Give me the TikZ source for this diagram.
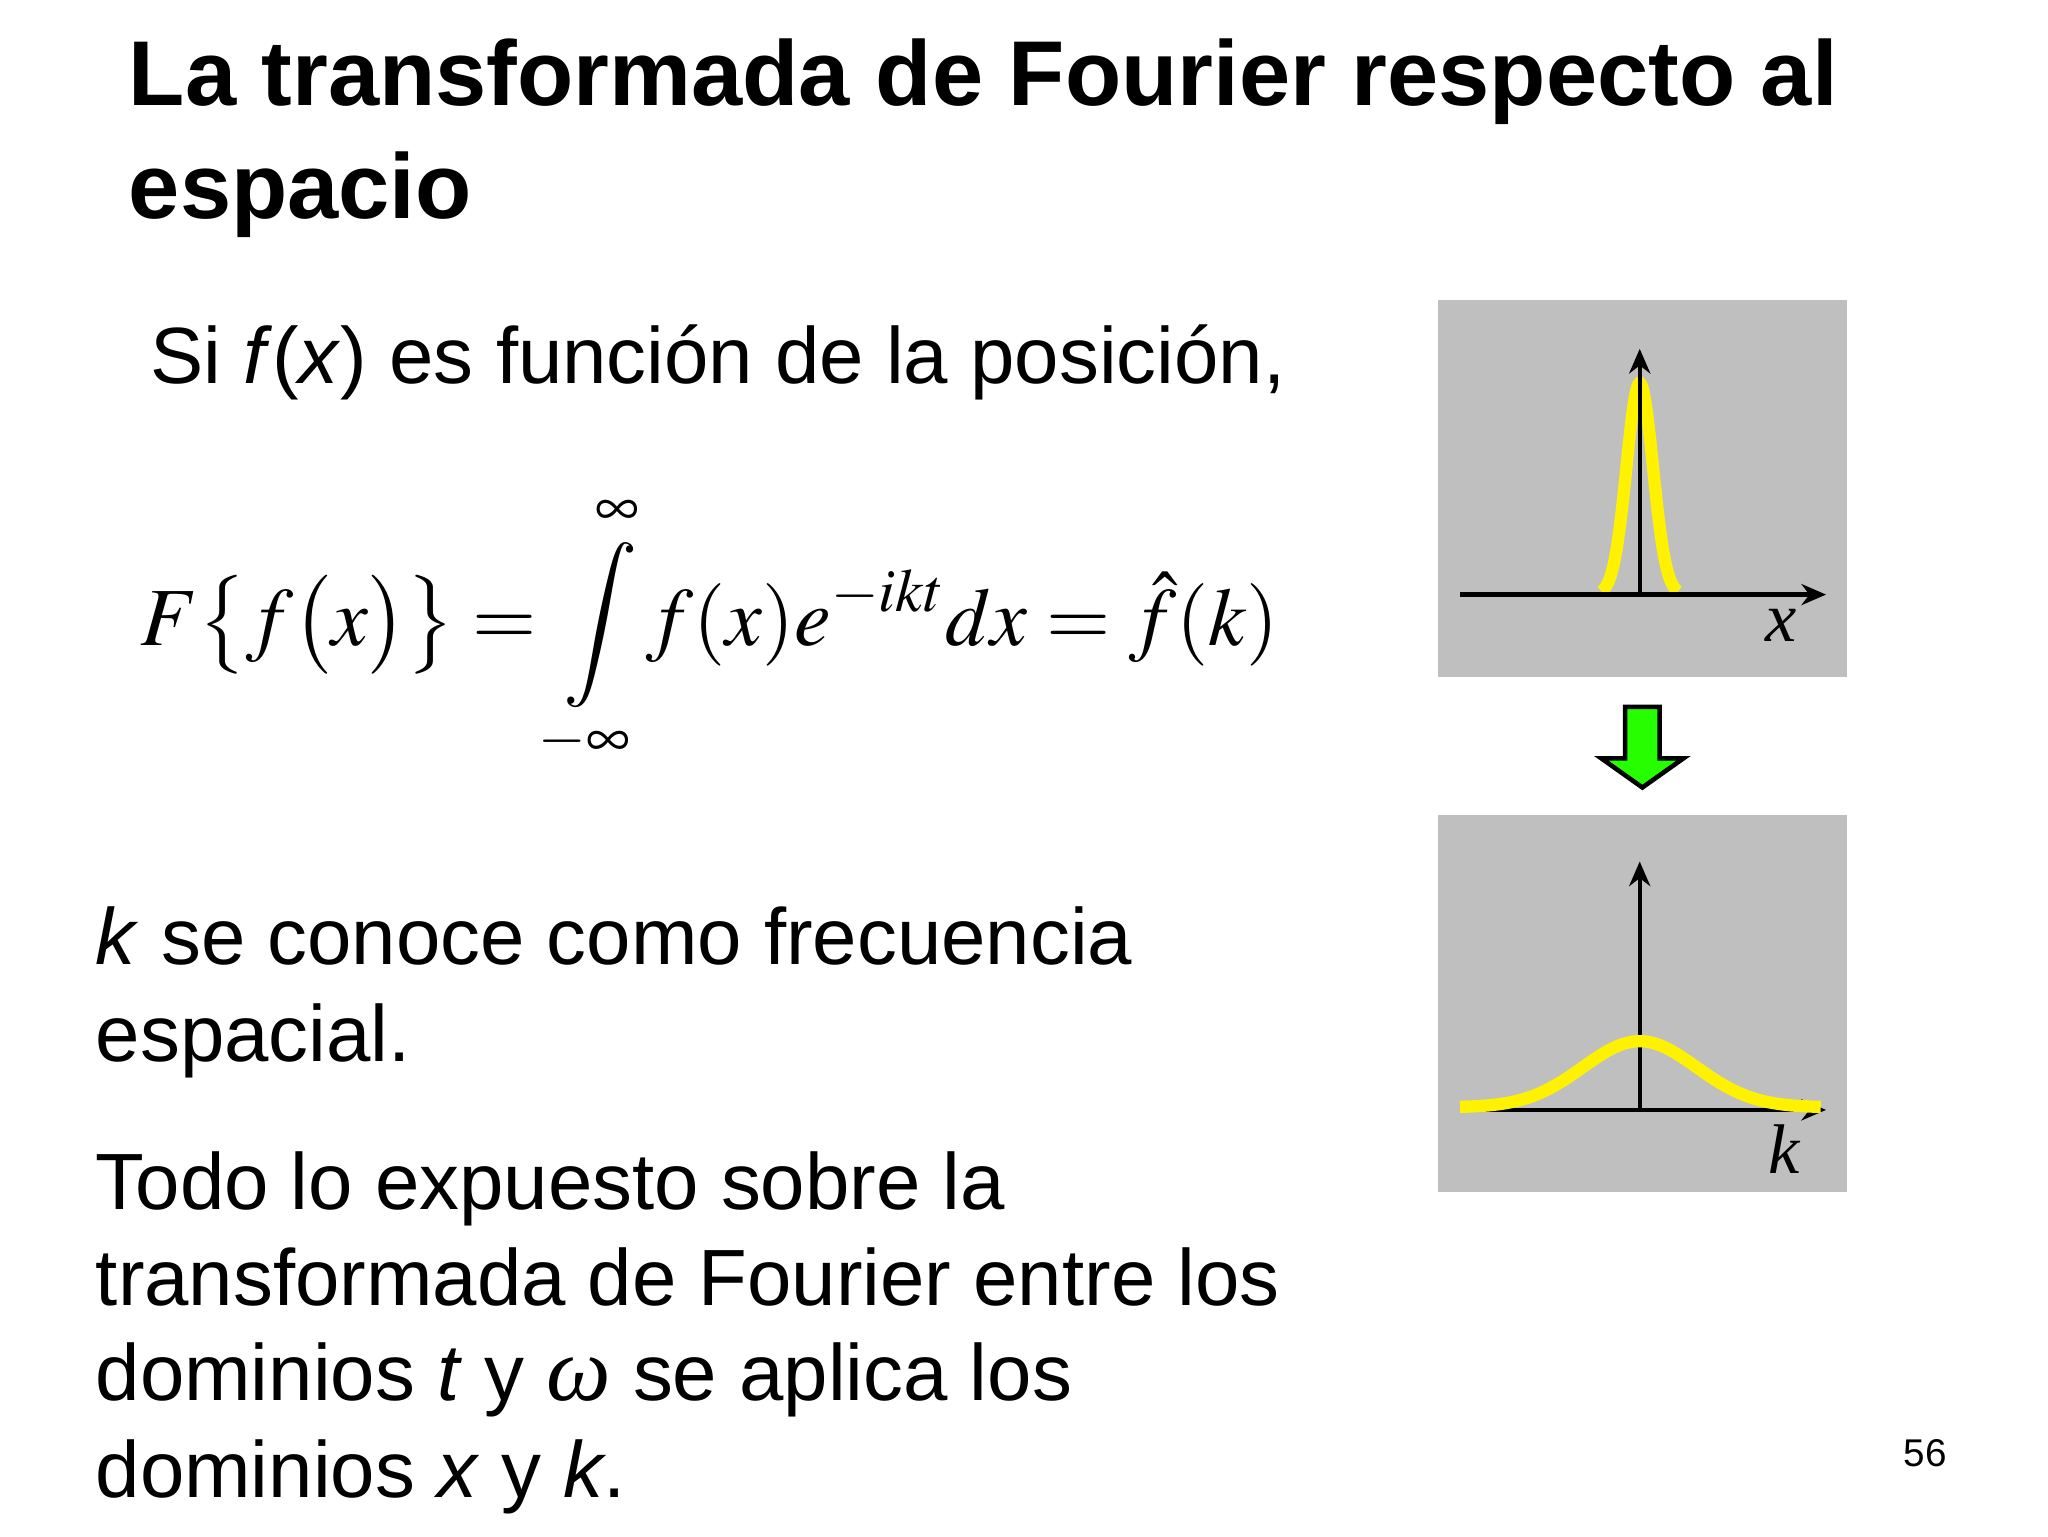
\documentclass[tikz,border=0pt]{standalone}
\usepackage{amsmath}
\usepackage{mathptmx}
\usepackage{fontspec}
\setmainfont{Liberation Sans}
\newfontfamily\tms{Liberation Serif}
\usetikzlibrary{arrows.meta}
\begin{document}
\begin{tikzpicture}[x=0.013213cm,y=-0.013213cm,
  txt/.style={anchor=base west,inner sep=0,font=\fontsize{22.7}{27}\selectfont},
  box/.style={fill=black!25,draw=none},
  ax/.style={line width=1.2pt,-{Stealth[length=7pt,width=6pt]}},
  yel/.style={yellow,line width=3.5pt}]
\useasboundingbox (0,0) rectangle (1550,1163);
\node[txt,font=\fontsize{26.2}{31}\selectfont\bfseries] (t1) at (97,80) {La transformada de Fourier respecto al};
\node[txt,font=\fontsize{26.2}{31}\selectfont\bfseries] (t2) at (97,165) {espacio};
\node[txt] (s) at (113,290) {Si \textit{f}(\textit{x}) es función de la posición,};
\node[inner sep=0,font=\fontsize{23.5}{28}\selectfont] (eq) at (537,478)
 {$\displaystyle F\bigl\{f\bigl(x\bigr)\bigr\}=\int\limits_{-\infty}^{\infty}\!f(x)e^{-ikt}dx=\hat{f}(k)$};
\node[txt] (k1) at (72,730) {\textit{k} se conoce como frecuencia};
\node[txt] (k2) at (72,803) {espacial.};
\node[txt] (d1) at (72,915) {Todo lo expuesto sobre la};
\node[txt] (d2) at (72,988) {transformada de Fourier entre los};
\node[txt] (d3) at (72,1060) {dominios \textit{t} y {\tms\itshape\fontsize{26}{30}\selectfont ω} se aplica los};
\node[txt] (d4) at (72,1133) {dominios \textit{x} y \textit{k}.};
\node[inner sep=0,font=\fontsize{11}{13}\selectfont] (pg) at (1457,1100) {56};
% box 1
\fill[box] (1088,227) rectangle (1398,512);
\draw[yel,domain=1212:1270,samples=80] plot (\x,{450-160*exp(-((\x-1241)/10)^2/2)});
\draw[ax] (1105,450) -- (1382,450);
\draw[ax] (1241,450) -- (1241,264);
\node[font=\tms\itshape\fontsize{20}{24}\selectfont] (lx) at (1348,473) {x};
% arrow
\draw[fill=green!80!lime,line width=1.3pt] (1230,535) -- (1256,535) -- (1256,574) -- (1274,574) -- (1243,596) -- (1212,574) -- (1230,574) -- cycle;
% box 2
\fill[box] (1088,617) rectangle (1398,902);
\draw[ax] (1105,840) -- (1382,840);
\draw[ax] (1241,840) -- (1241,652);
\draw[yel,domain=1105:1378,samples=120] plot (\x,{838-50*exp(-((\x-1241)/43)^2/2)});
\node[font=\tms\itshape\fontsize{20}{24}\selectfont] (lk) at (1350,870) {k};
\end{tikzpicture}
\end{document}
